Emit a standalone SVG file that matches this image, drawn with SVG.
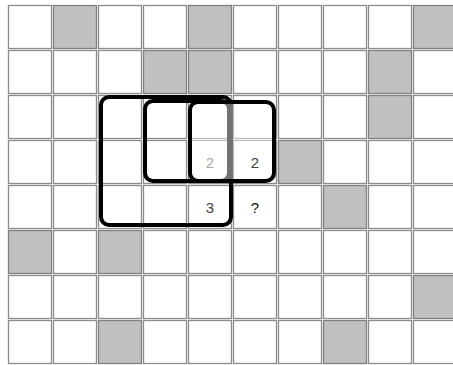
<svg xmlns="http://www.w3.org/2000/svg" width="453" height="365" viewBox="0 0 453 365">
<style>
.c{fill:#fff;stroke:#8c8c8c;stroke-width:1.3}
.g{fill:#c0c0c0;stroke:#808080;stroke-width:1.3}
.r{fill:none;stroke:#000;stroke-width:4}
.t{font-family:"Liberation Sans",Arial,sans-serif;font-size:15px;text-anchor:middle}
</style>
<rect width="453" height="365" fill="#fff"/>
<defs>
<rect id="w" class="c" width="43" height="43"/>
<rect id="k" class="g" width="43" height="43"/>
</defs>
<g id="grid">
<!-- row 0 -->
<use href="#w" x="8.5" y="5.5"/><use href="#k" x="53.5" y="5.5"/><use href="#w" x="98.5" y="5.5"/><use href="#w" x="143.5" y="5.5"/><use href="#k" x="188.5" y="5.5"/><use href="#w" x="233.5" y="5.5"/><use href="#w" x="278.5" y="5.5"/><use href="#w" x="323.5" y="5.5"/><use href="#w" x="368.5" y="5.5"/><use href="#k" x="413.5" y="5.5"/>
<!-- row 1 -->
<use href="#w" x="8.5" y="50.5"/><use href="#w" x="53.5" y="50.5"/><use href="#w" x="98.5" y="50.5"/><use href="#k" x="143.5" y="50.5"/><use href="#k" x="188.5" y="50.5"/><use href="#w" x="233.5" y="50.5"/><use href="#w" x="278.5" y="50.5"/><use href="#w" x="323.5" y="50.5"/><use href="#k" x="368.5" y="50.5"/><use href="#w" x="413.5" y="50.5"/>
<!-- row 2 -->
<use href="#w" x="8.5" y="95.5"/><use href="#w" x="53.5" y="95.5"/><use href="#w" x="98.5" y="95.5"/><use href="#w" x="143.5" y="95.5"/><use href="#w" x="188.5" y="95.5"/><use href="#w" x="233.5" y="95.5"/><use href="#w" x="278.5" y="95.5"/><use href="#w" x="323.5" y="95.5"/><use href="#k" x="368.5" y="95.5"/><use href="#w" x="413.5" y="95.5"/>
<!-- row 3 -->
<use href="#w" x="8.5" y="140.5"/><use href="#w" x="53.5" y="140.5"/><use href="#w" x="98.5" y="140.5"/><use href="#w" x="143.5" y="140.5"/><use href="#w" x="188.5" y="140.5"/><use href="#w" x="233.5" y="140.5"/><use href="#k" x="278.5" y="140.5"/><use href="#w" x="323.5" y="140.5"/><use href="#w" x="368.5" y="140.5"/><use href="#w" x="413.5" y="140.5"/>
<!-- row 4 -->
<use href="#w" x="8.5" y="185.5"/><use href="#w" x="53.5" y="185.5"/><use href="#w" x="98.5" y="185.5"/><use href="#w" x="143.5" y="185.5"/><use href="#w" x="188.5" y="185.5"/><use href="#w" x="233.5" y="185.5"/><use href="#w" x="278.5" y="185.5"/><use href="#k" x="323.5" y="185.5"/><use href="#w" x="368.5" y="185.5"/><use href="#w" x="413.5" y="185.5"/>
<!-- row 5 -->
<use href="#k" x="8.5" y="230.5"/><use href="#w" x="53.5" y="230.5"/><use href="#k" x="98.5" y="230.5"/><use href="#w" x="143.5" y="230.5"/><use href="#w" x="188.5" y="230.5"/><use href="#w" x="233.5" y="230.5"/><use href="#w" x="278.5" y="230.5"/><use href="#w" x="323.5" y="230.5"/><use href="#w" x="368.5" y="230.5"/><use href="#w" x="413.5" y="230.5"/>
<!-- row 6 -->
<use href="#w" x="8.5" y="275.5"/><use href="#w" x="53.5" y="275.5"/><use href="#w" x="98.5" y="275.5"/><use href="#w" x="143.5" y="275.5"/><use href="#w" x="188.5" y="275.5"/><use href="#w" x="233.5" y="275.5"/><use href="#w" x="278.5" y="275.5"/><use href="#w" x="323.5" y="275.5"/><use href="#w" x="368.5" y="275.5"/><use href="#k" x="413.5" y="275.5"/>
<!-- row 7 -->
<use href="#w" x="8.5" y="320.5"/><use href="#w" x="53.5" y="320.5"/><use href="#k" x="98.5" y="320.5"/><use href="#w" x="143.5" y="320.5"/><use href="#w" x="188.5" y="320.5"/><use href="#w" x="233.5" y="320.5"/><use href="#w" x="278.5" y="320.5"/><use href="#k" x="323.5" y="320.5"/><use href="#w" x="368.5" y="320.5"/><use href="#w" x="413.5" y="320.5"/>
</g>
<g id="regions">
<rect class="r" x="101" y="97" width="130" height="128" rx="8"/>
<rect class="r" x="145" y="101" width="84" height="80" rx="8"/>
<rect x="190" y="102" width="84" height="79" rx="8" fill="#fff" fill-opacity="0.45" stroke="#000" stroke-width="4"/>
</g>
<g id="labels">
<text class="t" x="210" y="168" fill="#aaa">2</text>
<text class="t" x="255" y="168" fill="#444">2</text>
<text class="t" x="210" y="213" fill="#444">3</text>
<text class="t" x="255" y="213" fill="#111">?</text>
</g>
</svg>
